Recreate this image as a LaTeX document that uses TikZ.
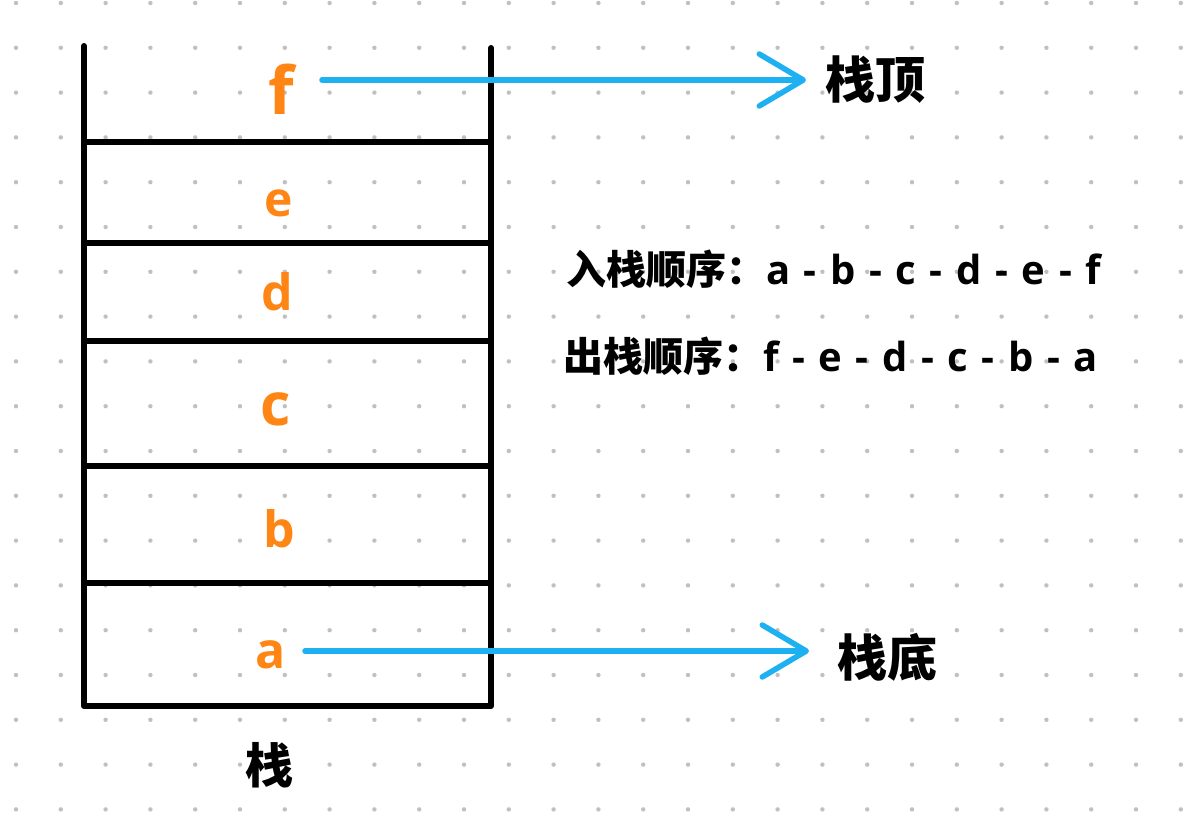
\documentclass[tikz,border=0pt]{standalone}
\usepackage{fontspec}
\setmainfont{Open Sans}
\newfontfamily\cjk{Noto Sans CJK SC}
\usetikzlibrary{arrows.meta}
\definecolor{stackorange}{RGB}{255,133,20}
\definecolor{arrowblue}{RGB}{29,177,242}
\definecolor{dotgray}{RGB}{192,192,192}
\newcommand{\fs}[1]{\fontsize{#1}{#1}\selectfont}
\newcommand{\dsep}{\hspace{3.2pt} - \hspace{3.2pt}}
\begin{document}
\begin{tikzpicture}[x=1pt,y=-1pt,
  wall/.style={line width=6pt,line cap=round,line join=round,black},
  shelf/.style={line width=6pt,black},
  letter/.style={anchor=base,inner sep=0pt,text=stackorange,font=\bfseries},
  cnlabel/.style={inner sep=0pt,text=black,font=\cjk\bfseries},
  orderline/.style={inner sep=0pt,anchor=base west,text=black,font=\bfseries\fs{40}},
  arr/.style={line width=5.5pt,arrowblue,line cap=round,
    -{Straight Barb[length=44pt,width=52pt,round]}}]
\useasboundingbox (0,0) rectangle (1190,826);
\fill[white] (0,0) rectangle (1190,826);
% dot grid
\foreach \i in {0,...,26}{
  \foreach \j in {0,...,18}{
    \fill[dotgray] ({16+44.8*\i},{3+44.8*\j}) circle (2.2pt);
  }
}
% stack walls
\draw[wall] (84,46) -- (84,706) -- (491,706) -- (491,48);
\foreach \yy in {142,243,341,466,583}{
  \draw[shelf] (84,\yy) -- (491,\yy);
}
% elements
\node[letter,font=\bfseries\fs{66}] (f) at (281,115) {f};
\node[letter,font=\bfseries\fs{48}] (e) at (279,217) {e};
\node[letter,font=\bfseries\fs{50}] (d) at (277,310) {d};
\node[letter,font=\bfseries\fs{59}] (c) at (276,425) {c};
\node[letter,font=\bfseries\fs{50}] (b) at (279,547) {b};
\node[letter,font=\bfseries\fs{50}] (a) at (271,668) {a};
% labels
\node[cnlabel,anchor=base west,font=\cjk\bfseries\fs{50}] (top) at (825,99) {栈顶};
\node[cnlabel,anchor=base west,font=\cjk\bfseries\fs{50}] (bottom) at (837,676) {栈底};
\node[cnlabel,anchor=base,font=\cjk\bfseries\fs{48}] (stack) at (269,783) {栈};
% arrows
\coordinate (topstart) at (322,80);
\coordinate (topend) at (806,80);
\coordinate (botstart) at (305,651);
\coordinate (botend) at (809,651);
\draw[arr] (topstart) -- (topend);
\draw[arr] (botstart) -- (botend);
% order texts
\node[orderline] (pushorder) at (566,284) {{\cjk\bfseries 入栈顺序：}a\dsep b\dsep c\dsep d\dsep e\dsep f};
\node[orderline] (poporder) at (563,371) {{\cjk\bfseries 出栈顺序：}f\dsep e\dsep d\dsep c\dsep b\dsep a};
\end{tikzpicture}
\end{document}
